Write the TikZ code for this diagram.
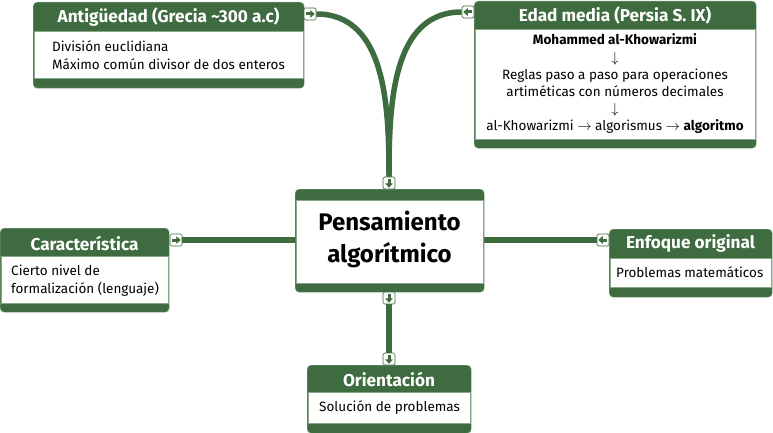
\documentclass[tikz,border=0pt]{standalone}
\usepackage{fontspec}
\setmainfont{Fira Sans}
\usepackage{xcolor}
\usepackage{tikz}
\usetikzlibrary{arrows.meta}
\definecolor{dgreen}{HTML}{3E6B3F}
\definecolor{lgreen}{HTML}{86A886}
\tikzset{ topic/.style = {rectangle, rounded corners=4pt, draw=lgreen, fill=dgreen, inner sep=0pt, anchor=north west} }
\tikzset{ topic_body/.style = {rectangle, fill=white, draw=lgreen, line width=0.6pt, inner sep=0pt, anchor=north west} }
\tikzset{ head/.style = {text=white, inner sep=0pt, font=\bfseries\fontsize{17.2}{18}\selectfont} }
\tikzset{ note/.style = {inner sep=0pt, align=left, font=\fontsize{13.5}{18}\selectfont} }
\tikzset{ knob/.style = {rectangle, rounded corners=1.5pt, draw=dgreen, fill=white, line width=0.7pt, minimum size=12pt, inner sep=0pt} }
\tikzset{ knob_tip/.style = {draw=dgreen, line width=3pt, -{Triangle[length=4.5pt,width=7.5pt]}, shorten <=2pt, shorten >=1.6pt} }
\tikzset{ link/.style = {draw=dgreen, line width=5.5pt} }

\begin{document}
\begin{tikzpicture}[x=1pt, y=-1pt]
    \useasboundingbox (0,0) rectangle (773,433);
    % central topic
    \node[topic, minimum width=189pt, minimum height=103pt] (cen) at (295,189) {};
    \node[topic_body, minimum width=187pt, minimum height=83pt] (cenb) at (296,200) {};
    \node[inner sep=0pt, align=center, font=\bfseries\fontsize{24}{32}\selectfont] (cent) at (389.5,239) {Pensamiento\\algorítmico};
    % Antigüedad
    \node[topic, minimum width=271pt, minimum height=86pt] (ant) at (33,2) {};
    \node[topic_body, minimum width=269pt, minimum height=47pt] (antb) at (34,31) {};
    \node[head] (antt) at (168.5,17) {Antigüedad (Grecia \textasciitilde300 a.c)};
    \node[note, anchor=west] (antn) at (52,55) {División euclidiana\\Máximo común divisor de dos enteros};
    % Edad media
    \node[topic, minimum width=282pt, minimum height=147pt] (edad) at (474,1) {};
    \node[topic_body, minimum width=280pt, minimum height=110pt] (edadb) at (475,29) {};
    \node[head] (edadt) at (615,15) {Edad media (Persia S. IX)};
    \node[note, align=center, font=\fontsize{13.5}{17.2}\selectfont] (edadn) at (615,84) {\textbf{Mohammed al-Khowarizmi}\\$\downarrow$\\Reglas paso a paso para operaciones\\artiméticas con números decimales\\$\downarrow$\\al-Khowarizmi $\rightarrow$ algorismus $\rightarrow$ \textbf{algoritmo}};
    % Característica
    \node[topic, minimum width=169pt, minimum height=84pt] (car) at (0,228) {};
    \node[topic_body, minimum width=167pt, minimum height=47pt] (carb) at (1,256) {};
    \node[head] (cart) at (84.5,243) {Característica};
    \node[note, anchor=west] (carn) at (11,280.5) {Cierto nivel de\\formalización (lenguaje)};
    % Enfoque original
    \node[topic, minimum width=163pt, minimum height=68pt] (enf) at (609,229) {};
    \node[topic_body, minimum width=161pt, minimum height=29pt] (enfb) at (610,258) {};
    \node[head] (enft) at (690.5,243) {Enfoque original};
    \node[note, anchor=west] (enfn) at (616,272) {Problemas matemáticos};
    % Orientación
    \node[topic, minimum width=164pt, minimum height=68pt] (ori) at (307,365) {};
    \node[topic_body, minimum width=162pt, minimum height=31pt] (orib) at (308,392) {};
    \node[head] (orit) at (389,379) {Orientación};
    \node[note, anchor=west] (orin) at (319,408) {Solución de problemas};
    % knobs
    \node[knob] (kAnt) at (310,14) {};
    \node[knob] (kEdad) at (468,12) {};
    \node[knob] (kTop) at (389,183) {};
    \node[knob] (kBot) at (389,298) {};
    \node[knob] (kOri) at (389,359) {};
    \node[knob] (kCar) at (176,240) {};
    \node[knob] (kEnf) at (603,240) {};
    % links
    \draw[link] (kAnt.east) to[out=0, in=90] (kTop.north);
    \draw[link] (kEdad.west) to[out=180, in=90] (kTop.north);
    \draw[link] (kCar.east) -- (cen.west |- kCar.east);
    \draw[link] (kEnf.west) -- (cen.east |- kEnf.west);
    \draw[link] (kBot.south) -- (kOri.north);
    % knob arrows
    \draw[knob_tip] (kAnt.west) -- (kAnt.east);
    \draw[knob_tip] (kEdad.east) -- (kEdad.west);
    \draw[knob_tip] (kTop.north) -- (kTop.south);
    \draw[knob_tip] (kBot.north) -- (kBot.south);
    \draw[knob_tip] (kOri.north) -- (kOri.south);
    \draw[knob_tip] (kCar.west) -- (kCar.east);
    \draw[knob_tip] (kEnf.east) -- (kEnf.west);
\end{tikzpicture}
\end{document}
